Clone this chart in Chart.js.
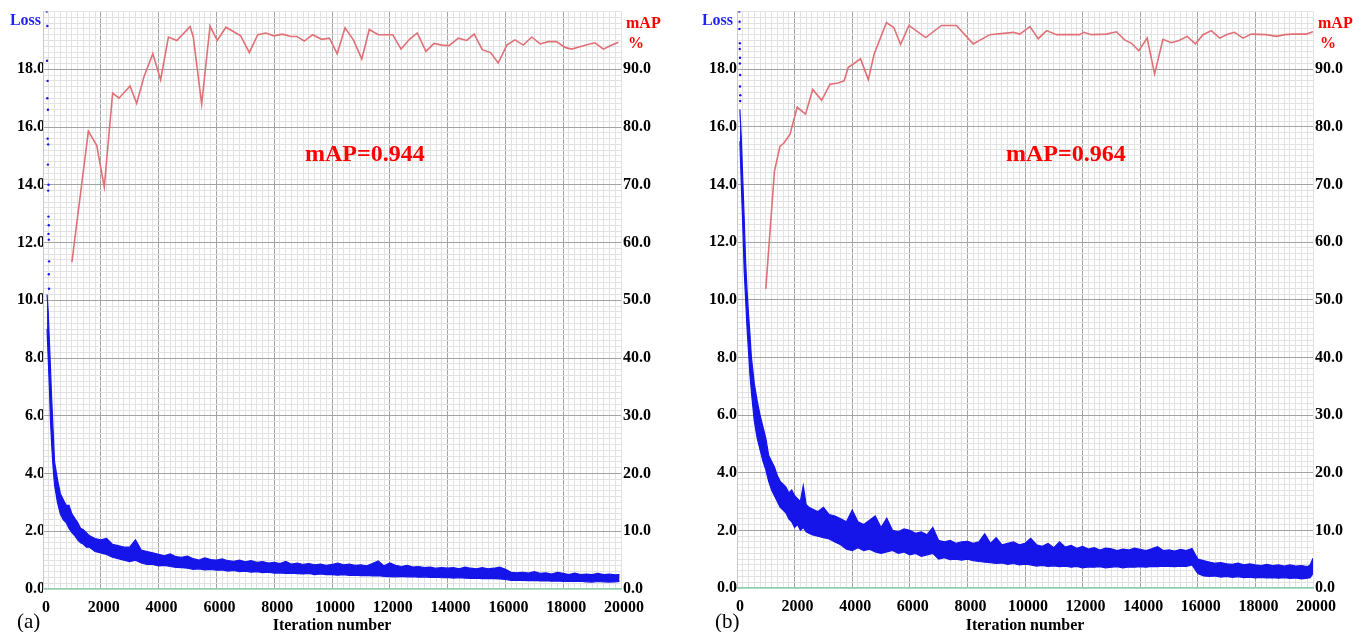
<!DOCTYPE html>
<html>
<head>
<meta charset="utf-8">
<script src="https://cdn.jsdelivr.net/npm/chart.js@4/dist/chart.umd.min.js"></script>
<style>
  html, body { margin: 0; padding: 0; background: #fff; }
  #wrap { position: relative; width: 1361px; height: 632px; overflow: hidden; }
  canvas { position: absolute; top: 0; }
  #cA { left: 0; }
  #cB { left: 680px; }
</style>
</head>
<body>
<div id="wrap">
  <canvas id="cA" width="680" height="632"></canvas>
  <canvas id="cB" width="681" height="632"></canvas>
</div>
<script>
// ---------- Panel (a): training loss band (lower / upper edge of the dense loss trace) ----------
const lossIterA = [140,180,220,260,300,350,400,450,500,600,700,800,900,1000,1100,1200,1300,1400,1500,1600,1800,
  2000,2200,2400,2600,2800,3000,3200,3400,3600,3800,4000,4200,4400,4600,4800,5000,5200,5400,5600,5800,
  6000,6200,6400,6600,6800,7000,7200,7400,7600,7800,8000,8200,8400,8600,8800,9000,9200,9400,9600,9800,
  10000,10200,10400,10600,10800,11000,11200,11400,11600,11800,12000,12200,12400,12600,12800,13000,13200,13400,13600,13800,
  14000,14200,14400,14600,14800,15000,15200,15400,15600,15800,16000,16200,16400,16600,16800,17000,17200,17400,17600,17800,
  18000,18200,18400,18600,18800,19000,19200,19400,19600,19800,19950];
const lossLowA = [9.0,8.0,7.0,5.8,5.0,4.2,3.6,3.3,3.0,2.6,2.4,2.3,2.1,1.95,1.85,1.7,1.6,1.55,1.45,1.45,1.3,
  1.25,1.2,1.1,1.05,1.0,0.95,1.0,0.9,0.85,0.85,0.8,0.82,0.78,0.75,0.74,0.72,0.68,0.7,0.66,0.68,
  0.65,0.66,0.62,0.64,0.6,0.62,0.58,0.6,0.57,0.58,0.55,0.56,0.54,0.55,0.53,0.52,0.54,0.5,0.52,0.5,
  0.5,0.48,0.5,0.47,0.48,0.46,0.47,0.45,0.46,0.44,0.43,0.42,0.44,0.42,0.43,0.41,0.42,0.4,0.41,0.39,
  0.4,0.38,0.39,0.38,0.37,0.38,0.36,0.37,0.36,0.35,0.33,0.3,0.31,0.3,0.29,0.3,0.28,0.29,0.27,0.28,
  0.26,0.27,0.26,0.27,0.25,0.24,0.26,0.25,0.24,0.25,0.26];
const lossHighA = [10.2,9.6,8.6,7.6,6.6,5.5,4.4,4.1,3.8,3.3,3.1,2.9,2.9,2.6,2.45,2.3,2.1,2.05,1.95,1.85,1.75,
  1.7,1.75,1.55,1.5,1.45,1.45,1.7,1.35,1.3,1.25,1.2,1.15,1.22,1.12,1.1,1.14,1.05,1.0,1.08,1.02,
  1.0,1.04,0.98,0.96,1.0,0.94,0.98,0.92,0.95,0.9,0.92,0.88,0.96,0.86,0.9,0.85,0.88,0.84,0.86,0.82,
  0.85,0.9,0.84,0.86,0.82,0.84,0.8,0.88,0.97,0.8,0.9,0.82,0.78,0.82,0.76,0.78,0.74,0.76,0.72,0.74,
  0.72,0.74,0.7,0.76,0.72,0.7,0.74,0.7,0.72,0.76,0.68,0.58,0.56,0.58,0.55,0.6,0.54,0.56,0.52,0.58,
  0.54,0.5,0.55,0.5,0.52,0.5,0.54,0.5,0.52,0.49,0.5];
// first few sparse loss samples right after start
const earlyIterA = [130,150,140,160,150,170,160,180,170,190,180,190,200,190,200,210,200,210];
const earlyLossA = [20.0,19.5,18.3,17.6,17.0,16.6,15.6,15.4,14.7,14.0,13.8,12.9,12.6,12.3,12.1,11.35,10.9,10.4];
// mAP evaluations (%)
const mapIterA = [1000,1570,1860,2120,2410,2630,3010,3240,3500,3800,4070,4340,4630,5090,5200,5490,5780,6030,6330,6840,
  7140,7430,7710,7990,8290,8570,8780,9040,9330,9640,9910,10180,10450,10740,11030,11290,11600,12100,12390,12680,
  12950,13250,13530,13800,14050,14370,14660,14920,15200,15490,15750,16050,16330,16620,16910,17200,17490,17770,18060,18290,
  18580,18850,19100,19390,19680,19910];
const mapValA = [56.6,79.3,76.8,69.6,85.9,85.0,87.1,84.1,88.8,92.7,88.2,95.6,95.0,97.4,95.6,84.0,97.5,95.0,97.3,95.8,
  92.9,96.0,96.3,95.8,96.1,95.7,95.7,94.9,96.0,95.2,95.4,92.7,97.2,95.1,91.8,96.9,96.0,96.0,93.5,95.2,
  96.3,93.1,94.5,94.2,94.1,95.4,95.0,96.1,93.4,92.9,91.1,94.2,95.1,94.2,95.6,94.4,94.8,94.8,93.8,93.5,
  93.9,94.3,94.6,93.5,94.2,94.7];

// ---------- Panel (b) ----------
const lossIterB = [100,150,200,250,300,350,400,450,500,600,700,800,900,1000,1100,1200,1300,1400,1500,1600,
  1700,1800,1900,2000,2100,2200,2300,2400,2500,2600,2800,
  3000,3200,3400,3600,3800,4000,4200,4400,4600,4800,5000,5200,5400,5600,5800,
  6000,6200,6400,6600,6800,7000,7200,7400,7600,7800,8000,8200,8400,8600,8800,9000,9200,9400,9600,9800,
  10000,10200,10400,10600,10800,11000,11200,11400,11600,11800,12000,12200,12400,12600,12800,13000,13200,13400,13600,13800,
  14000,14200,14400,14600,14800,15000,15200,15400,15600,15800,16000,16200,16400,16600,16800,17000,17200,17400,17600,17800,
  18000,18200,18400,18600,18800,19000,19200,19400,19600,19800,19900,20000];
const lossLowB = [15.5,14.0,12.6,11.0,10.0,9.0,8.2,7.4,6.8,5.8,5.2,4.8,4.4,4.1,3.7,3.4,3.2,3.0,2.8,2.7,
  2.6,2.4,2.3,2.1,2.2,2.0,2.1,1.95,1.9,1.85,1.8,
  1.75,1.7,1.6,1.5,1.35,1.3,1.4,1.3,1.35,1.25,1.2,1.25,1.3,1.2,1.25,
  1.15,1.2,1.1,1.15,1.2,1.0,1.05,0.98,1.0,0.97,1.0,0.95,0.92,0.9,0.88,0.85,0.87,0.82,0.85,0.8,
  0.83,0.8,0.76,0.78,0.75,0.77,0.74,0.76,0.72,0.75,0.7,0.73,0.72,0.74,0.7,0.72,0.74,0.7,0.73,0.72,
  0.74,0.72,0.75,0.74,0.76,0.75,0.74,0.76,0.75,0.8,0.5,0.42,0.4,0.42,0.38,0.4,0.37,0.39,0.36,0.38,
  0.35,0.37,0.35,0.36,0.34,0.36,0.33,0.35,0.32,0.34,0.36,0.5];
const lossHighB = [16.6,15.6,14.2,12.8,11.3,10.3,9.5,8.8,8.0,7.1,6.5,6.0,5.6,5.2,4.6,4.4,4.2,3.9,3.7,3.6,
  3.5,3.3,3.4,3.2,3.1,3.0,3.55,2.9,2.8,2.75,2.65,
  2.8,2.55,2.5,2.4,2.3,2.7,2.3,2.2,2.35,2.5,2.1,2.42,2.0,1.95,2.05,
  2.0,1.9,1.95,1.85,2.1,1.65,1.6,1.65,1.55,1.6,1.62,1.55,1.6,1.88,1.55,1.75,1.5,1.55,1.6,1.5,
  1.55,1.72,1.5,1.45,1.55,1.4,1.6,1.42,1.48,1.38,1.44,1.35,1.4,1.32,1.38,1.36,1.3,1.35,1.32,1.38,
  1.34,1.3,1.36,1.43,1.3,1.32,1.28,1.34,1.3,1.37,1.0,0.95,0.9,0.86,0.88,0.84,0.82,0.86,0.8,0.84,
  0.8,0.78,0.82,0.78,0.8,0.76,0.8,0.76,0.78,0.74,0.8,1.03];
const earlyIterB = [80,90,85,100,95,105,100,110,105,115,110];
const earlyLossB = [20.0,19.65,19.4,18.9,18.7,18.4,18.2,17.8,17.4,17.1,16.9];
const mapIterB = [1000,1300,1490,1630,1840,2090,2380,2630,2940,3230,3520,3720,3860,4290,4560,4760,5190,5450,5680,5970,
  6550,7100,7620,8200,8780,9590,9820,10170,10460,10750,11090,11900,12040,12310,12830,13170,13460,13700,13950,14240,
  14500,14790,15080,15350,15630,15920,16180,16470,16760,17050,17280,17570,17860,18380,18730,19020,19300,19770,20000];
const mapValB = [51.9,72.3,76.6,77.2,78.7,83.4,82.2,86.5,84.6,87.4,87.6,88.0,90.3,91.8,88.2,92.6,98.1,97.2,94.3,97.6,
  95.5,97.6,97.6,94.4,96.0,96.4,96.1,97.4,95.3,96.7,96.0,96.0,96.4,96.0,96.1,96.5,95.1,94.5,93.2,95.4,
  89.2,95.2,94.6,95.0,95.7,94.4,96.0,96.7,95.4,96.1,96.4,95.4,96.1,96.0,95.7,96.0,96.1,96.1,96.5];

// ---------- axis tick settings ----------
const lossMax = 20, lossStep = 0.2, lossMajor = 2;
const mapMax = 100, mapStep = 10;
const iterMax = 20000, iterStep = 200, iterMajor = 2000;

// ---------- styles ----------
const FONT = '"Liberation Serif", "Times New Roman", serif';
const BLUE = '#1515ea';
const LABEL_BLUE = '#1f1fff';
const RED = '#ff0000';
const MAP_LINE = 'rgb(224,112,118)';
const MAJOR = '#a3a3a3';
const MINOR = '#e2e2e2';
const ZERO = '#8fcfae';

const zip = (xs, ys) => xs.map((x, i) => ({ x: x, y: ys[i] }));
const isMult = (v, m) => Math.abs(v / m - Math.round(v / m)) < 1e-6;

const panelText = {
  id: 'panelText',
  afterDraw(chart, args, o) {
    const { ctx, chartArea: a } = chart;
    ctx.save();
    ctx.textBaseline = 'middle';
    ctx.font = 'bold 16px ' + FONT;
    ctx.fillStyle = LABEL_BLUE;
    ctx.textAlign = 'right';
    ctx.fillText('Loss', a.left + o.lossDx, 21);
    ctx.fillStyle = RED;
    ctx.textAlign = 'left';
    ctx.fillText('mAP', a.right + 5, 24);
    ctx.fillText('%', a.right + 7, 44);
    ctx.font = 'bold 24px ' + FONT;
    ctx.fillText(o.note, a.left + o.noteDx, 155);
    ctx.fillStyle = '#000';
    ctx.textAlign = 'center';
    ctx.font = 'bold 16px ' + FONT;
    ctx.fillText('Iteration number', (a.left + a.right) / 2, 626);
    ctx.textAlign = 'left';
    ctx.font = '21px ' + FONT;
    ctx.fillText(o.tag, o.tagX, 622);
    ctx.restore();
  }
};

function buildPanel(id, d) {
  new Chart(document.getElementById(id), {
    type: 'line',
    data: {
      datasets: [
        { label: 'mAP', data: zip(d.mapIter, d.mapVal), yAxisID: 'y2',
          borderColor: MAP_LINE, borderWidth: 1.6, pointRadius: 0, tension: 0, fill: false },
        { label: 'early loss', data: zip(d.earlyIter, d.earlyLoss), yAxisID: 'y',
          showLine: false, pointRadius: 1.2, pointBackgroundColor: BLUE, pointBorderWidth: 0 },
        { label: 'loss upper', data: zip(d.lossIter, d.lossHigh), yAxisID: 'y',
          borderColor: BLUE, backgroundColor: BLUE, borderWidth: 1.2, pointRadius: 0, tension: 0, fill: '+1' },
        { label: 'loss lower', data: zip(d.lossIter, d.lossLow), yAxisID: 'y',
          borderColor: BLUE, backgroundColor: BLUE, borderWidth: 1.2, pointRadius: 0, tension: 0, fill: false }
      ]
    },
    options: {
      responsive: false,
      animation: false,
      devicePixelRatio: 1,
      layout: { padding: { top: d.top, left: 0, right: 0, bottom: 0 } },
      plugins: {
        legend: { display: false },
        tooltip: { enabled: false },
        panelText: { note: d.note, noteDx: d.noteDx, lossDx: d.lossDx, tag: d.tag, tagX: d.tagX }
      },
      scales: {
        x: {
          type: 'linear', min: 0, max: iterMax,
          afterFit(s) { s.height = d.xHeight; },
          border: { display: true, color: ZERO, width: 1.5 },
          grid: {
            drawTicks: false,
            color: c => (isMult(c.tick.value, iterMajor) && c.tick.value > 0 && c.tick.value < iterMax) ? MAJOR : MINOR,
            lineWidth: 1
          },
          ticks: {
            stepSize: iterStep, autoSkip: false, maxRotation: 0, minRotation: 0,
            padding: 9, labelOffset: 3, color: '#000',
            font: { family: FONT, size: 16, weight: 'bold' },
            callback: v => isMult(v, iterMajor) ? String(v) : ''
          }
        },
        y: {
          type: 'linear', position: 'left', min: 0, max: lossMax,
          afterFit(s) { s.width = d.leftWidth; },
          border: { display: true, color: '#c9c9c9' },
          grid: {
            drawTicks: false,
            color: c => c.tick.value === 0 ? ZERO : ((isMult(c.tick.value, lossMajor) && c.tick.value < lossMax) ? MAJOR : MINOR),
            lineWidth: c => c.tick.value === 0 ? 1.5 : 1
          },
          ticks: {
            stepSize: lossStep, autoSkip: false, padding: d.leftPad, color: '#000',
            font: { family: FONT, size: 16, weight: 'bold' },
            callback: v => (isMult(v, lossMajor) && v < lossMax) ? Number(v).toFixed(1) : ''
          }
        },
        y2: {
          type: 'linear', position: 'right', min: 0, max: mapMax,
          afterFit(s) { s.width = d.rightWidth; },
          border: { display: false },
          grid: { display: false, drawTicks: false },
          ticks: {
            stepSize: mapStep, autoSkip: false, padding: 2, color: '#000',
            font: { family: FONT, size: 16, weight: 'bold' },
            callback: v => v < mapMax ? Number(v).toFixed(1) : ''
          }
        }
      }
    },
    plugins: [panelText]
  });
}

buildPanel('cA', {
  lossIter: lossIterA, lossLow: lossLowA, lossHigh: lossHighA,
  earlyIter: earlyIterA, earlyLoss: earlyLossA,
  mapIter: mapIterA, mapVal: mapValA,
  note: 'mAP=0.944', noteDx: 262, lossDx: -2, tag: '(a)', tagX: 17,
  top: 11, leftWidth: 43, rightWidth: 59, xHeight: 43, leftPad: -2
});
buildPanel('cB', {
  lossIter: lossIterB, lossLow: lossLowB, lossHigh: lossHighB,
  earlyIter: earlyIterB, earlyLoss: earlyLossB,
  mapIter: mapIterB, mapVal: mapValB,
  note: 'mAP=0.964', noteDx: 269, lossDx: -4, tag: '(b)', tagX: 35,
  top: 10, leftWidth: 57, rightWidth: 48, xHeight: 44, leftPad: 0
});
</script>
</body>
</html>
